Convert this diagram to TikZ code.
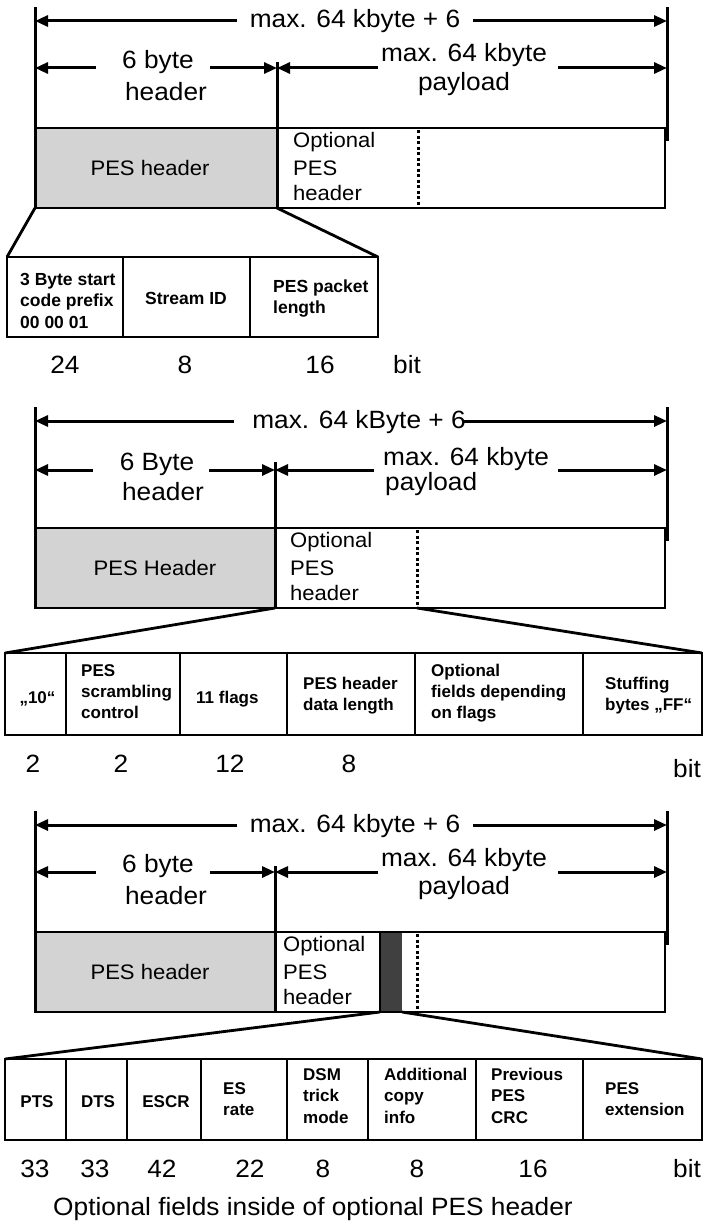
\documentclass[tikz,border=0pt]{standalone}
\usepackage{fontspec}
\setmainfont{Liberation Sans}
\newfontfamily\wideff{Liberation Sans}[FakeStretch=1.05]
\usetikzlibrary{arrows.meta}
\definecolor{hdrgray}{RGB}{211,211,211}
\definecolor{bargray}{RGB}{64,64,64}
\tikzset{
  dimtxt/.style={font=\wideff\fontsize{25}{29}\selectfont, inner sep=0pt, anchor=base},
  boxtxt/.style={font=\wideff\fontsize{21}{26.5}\selectfont, inner sep=0pt},
  numtxt/.style={font=\wideff\fontsize{25}{30}\selectfont, inner sep=0pt, anchor=base},
  fldA/.style={font=\bfseries\fontsize{17.5}{21.5}\selectfont, inner sep=0pt, align=left},
  fld/.style={font=\bfseries\fontsize{17}{21.3}\selectfont, inner sep=0pt, align=left},
  fldB/.style={font=\bfseries\fontsize{17}{21.5}\selectfont, inner sep=0pt, align=left},
  dimline/.style={line width=3pt},
  dimarrow/.style={line width=3pt, -{Triangle[length=13pt,width=11pt]}},
  boxline/.style={line width=2.8pt},
  dotline/.style={line width=3pt, dash pattern=on 3pt off 2.5pt},
  expline/.style={line width=2.8pt},
}
\begin{document}
\begin{tikzpicture}[x=1pt,y=-1pt]
\useasboundingbox (0,0) rectangle (703,1223);

% ================= TOP SECTION =================
\fill[hdrgray] (35,128) rectangle (277,208);
\draw[boxline] (35,128) rectangle (665,208);
\draw[dotline] (418,130) -- (418,207);
\draw[dimline] (35,7) -- (35,208);
\draw[dimline] (667,7) -- (667,141);
\draw[dimline] (277,62) -- (277,208);
\draw[dimarrow] (237,21) -- (35,21);
\draw[dimarrow] (473,21) -- (667,21);
\node[dimtxt] (tA) at (355,28) {max. 64 kbyte + 6};
\draw[dimarrow] (96,68) -- (35,68);
\draw[dimarrow] (210,68) -- (277,68);
\draw[dimarrow] (378,68) -- (277,68);
\draw[dimarrow] (558,68) -- (667,68);
\node[dimtxt] (tB1) at (158,68) {6 byte};
\node[dimtxt] (tB2) at (166,100) {header};
\node[dimtxt] (tC1) at (464,62) {max. 64 kbyte};
\node[dimtxt] (tC2) at (464,90) {payload};
\node[boxtxt, anchor=base] (tH) at (150,175) {PES header};
\node[boxtxt, anchor=base west] (tO1) at (293,147) {Optional};
\node[boxtxt, anchor=base west] (tO2) at (293,175) {PES};
\node[boxtxt, anchor=base west] (tO3) at (293,200) {header};
\coordinate (tx1) at (35,208);
\coordinate (tx2) at (277,208);
\coordinate (tf1) at (7,257);
\coordinate (tf2) at (378,257);
\draw[expline] (tx1) -- (tf1);
\draw[expline] (tx2) -- (tf2);
\draw[boxline] (7,257) rectangle (378,337);
\draw[boxline] (123,257) -- (123,337);
\draw[boxline] (250,257) -- (250,337);
\node[fldA, anchor=base west] (tf3) at (20,328) {3 Byte start\\code prefix\\00 00 01};
\node[fldA, anchor=base] (tf4) at (186,304) {Stream ID};
\node[fldA, anchor=base west] (tf5) at (273,313.5) {PES packet\\length};
\node[numtxt] (tn1) at (65,373) {24};
\node[numtxt] (tn2) at (185,373) {8};
\node[numtxt] (tn3) at (320,373) {16};
\node[numtxt, anchor=base west] (tn4) at (393,373) {bit};

% ================= MIDDLE SECTION =================
\fill[hdrgray] (35,528) rectangle (275,608);
\draw[boxline] (35,528) rectangle (665,608);
\draw[dotline] (417,530) -- (417,607);
\draw[dimline] (35,407) -- (35,608);
\draw[dimline] (667,407) -- (667,541);
\draw[dimline] (275,462) -- (275,608);
\draw[dimarrow] (234,421) -- (35,421);
\draw[dimarrow] (464,421) -- (667,421);
\node[dimtxt] (mA) at (359,428) {max. 64 kByte + 6};
\draw[dimarrow] (93,470) -- (35,470);
\draw[dimarrow] (209,470) -- (275,470);
\draw[dimarrow] (374,470) -- (275,470);
\draw[dimarrow] (558,470) -- (667,470);
\node[dimtxt] (mB1) at (157,470) {6 Byte};
\node[dimtxt] (mB2) at (163,500) {header};
\node[dimtxt, anchor=base west] (mC1) at (383,465) {max. 64 kbyte};
\node[dimtxt, anchor=base west] (mC2) at (385,490) {payload};
\node[boxtxt, anchor=base] (mH) at (155,575) {PES Header};
\node[boxtxt, anchor=base west] (mO1) at (290,547) {Optional};
\node[boxtxt, anchor=base west] (mO2) at (290,575) {PES};
\node[boxtxt, anchor=base west] (mO3) at (290,600) {header};
\coordinate (mx1) at (275,608);
\coordinate (mx2) at (417,608);
\coordinate (mf1) at (5,653);
\coordinate (mf2) at (702,653);
\draw[expline] (mx1) -- (mf1);
\draw[expline] (mx2) -- (mf2);
\draw[boxline] (5,653) rectangle (702,735);
\foreach \xx in {66,180,287,415,583} \draw[boxline] (\xx,653) -- (\xx,735);
\node[fld, anchor=base] (mf3) at (37.5,703) {„10“};
\node[fld, anchor=base west] (mf4) at (81,718.6) {PES\\scrambling\\control};
\node[fld, anchor=base west] (mf5) at (196,703) {11 flags};
\node[fld, anchor=base west] (mf6) at (303,710.3) {PES header\\data length};
\node[fld, anchor=base west] (mf7) at (431,718.6) {Optional\\fields depending\\on flags};
\node[fld, anchor=base west] (mf8) at (605,710.3) {Stuffing\\bytes „FF“};
\node[numtxt] (mn1) at (33,772) {2};
\node[numtxt] (mn2) at (121,772) {2};
\node[numtxt] (mn3) at (230,772) {12};
\node[numtxt] (mn4) at (349,772) {8};
\node[numtxt, anchor=base west] (mn5) at (673,777) {bit};

% ================= BOTTOM SECTION =================
\fill[hdrgray] (35,932) rectangle (275,1012);
\fill[bargray] (380,932) rectangle (402,1012);
\draw[boxline] (35,932) rectangle (665,1012);
\draw[boxline] (380,932) -- (380,1012);
\draw[dotline] (417,934) -- (417,1011);
\draw[dimline] (35,811) -- (35,1012);
\draw[dimline] (667,811) -- (667,945);
\draw[dimline] (275,866) -- (275,1012);
\draw[dimarrow] (237,825) -- (35,825);
\draw[dimarrow] (473,825) -- (667,825);
\node[dimtxt] (bA) at (355,832) {max. 64 kbyte + 6};
\draw[dimarrow] (96,872) -- (35,872);
\draw[dimarrow] (210,872) -- (275,872);
\draw[dimarrow] (378,872) -- (275,872);
\draw[dimarrow] (558,872) -- (667,872);
\node[dimtxt] (bB1) at (158,872) {6 byte};
\node[dimtxt] (bB2) at (166,904) {header};
\node[dimtxt] (bC1) at (464,866) {max. 64 kbyte};
\node[dimtxt] (bC2) at (464,894) {payload};
\node[boxtxt, anchor=base] (bH) at (150,979) {PES header};
\node[boxtxt, anchor=base west] (bO1) at (283,951) {Optional};
\node[boxtxt, anchor=base west] (bO2) at (283,979) {PES};
\node[boxtxt, anchor=base west] (bO3) at (283,1004) {header};
\coordinate (bx1) at (380,1012);
\coordinate (bx2) at (402,1012);
\coordinate (bf1) at (5,1059);
\coordinate (bf2) at (702,1059);
\draw[expline] (bx1) -- (bf1);
\draw[expline] (bx2) -- (bf2);
\draw[boxline] (5,1059) rectangle (702,1140);
\foreach \xx in {66,127,201,287,368,476,583} \draw[boxline] (\xx,1059) -- (\xx,1140);
\node[fldB, anchor=base] (bf3) at (37,1107) {PTS};
\node[fldB, anchor=base] (bf4) at (98,1107) {DTS};
\node[fldB, anchor=base] (bf5) at (166,1107) {ESCR};
\node[fldB, anchor=base west] (bf6) at (223,1115.5) {ES\\rate};
\node[fldB, anchor=base west] (bf7) at (303,1123) {DSM\\trick\\mode};
\node[fldB, anchor=base west] (bf8) at (384,1123) {Additional\\copy\\info};
\node[fldB, anchor=base west] (bf9) at (491,1123) {Previous\\PES\\CRC};
\node[fldB, anchor=base west] (bf10) at (605,1115.5) {PES\\extension};
\node[numtxt] (bn1) at (35,1177) {33};
\node[numtxt] (bn2) at (95,1177) {33};
\node[numtxt] (bn3) at (162,1177) {42};
\node[numtxt] (bn4) at (250,1177) {22};
\node[numtxt] (bn5) at (323,1177) {8};
\node[numtxt] (bn6) at (417,1177) {8};
\node[numtxt] (bn7) at (533,1177) {16};
\node[numtxt, anchor=base west] (bn8) at (673,1177) {bit};
\node[dimtxt] (cap) at (313,1215) {Optional fields inside of optional PES header};
\end{tikzpicture}
\end{document}
